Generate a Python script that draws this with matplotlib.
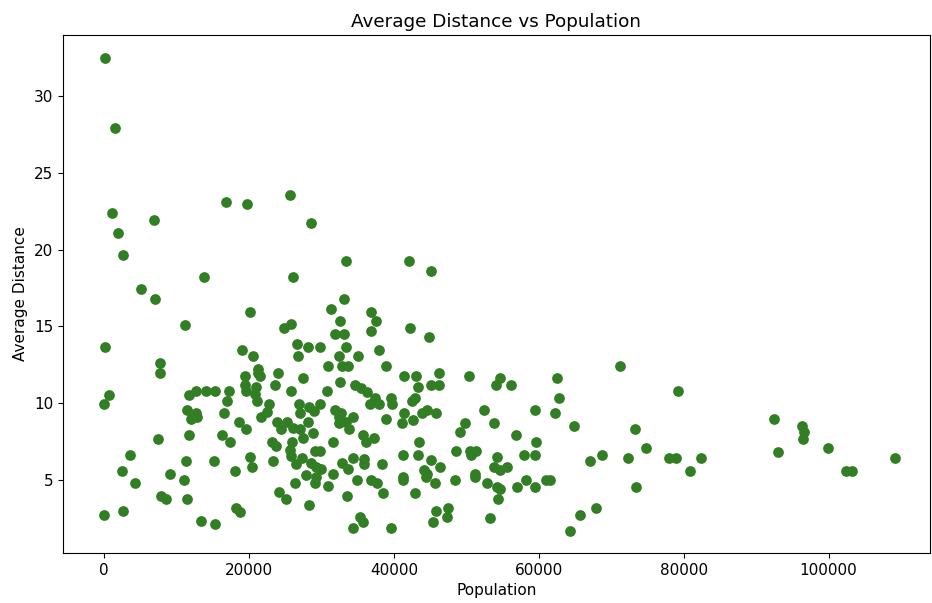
import matplotlib
matplotlib.use('Agg')
import matplotlib.pyplot as plt

# population (people) and average distance
population = [
    180, 1470, 25660,
    16780, 19680, 1060, 6850, 28550, 1890, 2670, 33330, 13790, 26110,
    5060, 6990, 33060, 31360, 20140, 32510, 11220, 25750, 24780, 31910,
    33060, 140, 19080, 26670, 28180, 29840, 33330, 20510, 26810, 32410,
    7770, 30850, 32780, 33700, 21200,
    7680, 19400, 21200, 21500, 24000, 27490, 32600, 740, 0, 11720, 12640,
    14020, 15310, 17200, 16920, 19400, 19540, 21010, 20780, 21150, 23540,
    25790, 30760, 22760, 22530, 21700, 26900, 28280, 29840, 27080, 29010,
    31820, 32640, 11400, 12740, 12000, 12870, 16510, 18620, 19540, 23860,
    24460, 25240, 26070, 26990, 28100, 28830, 27450, 25980, 32410, 32410,
    33330, 33750, 11770, 7450, 16320, 17430, 23220, 23770, 31590, 25610,
    25750, 29100, 29750, 27260, 26530, 28600, 29290, 29890, 27910, 29290,
    29150, 31590, 32870, 33660, 30940, 33470, 26300, 24140, 25060, 28280,
    3630, 2440, 4280, 11360, 15220, 9150, 10990, 18070, 20180, 20410,
    23360, 7820, 8510, 11450, 0, 2670, 18250, 18710, 13330, 15310,
    42110, 45150, 36780, 37520, 36780, 42250, 44780, 35080, 37890, 38940,
    71170,
    41430, 42990, 46160, 50390, 54710, 62480, 34620, 35450, 36230, 43260,
    45060, 46210, 54070, 56230, 62760, 37380, 36690, 37980, 39590, 39770,
    42480, 42940, 41430, 41060, 42570, 43860, 44600, 45750, 52460, 59540,
    62300, 38900, 34300, 35680, 36140, 37290, 49790, 49100, 53790, 64920,
    73240, 56830, 59590, 74850, 43400, 41290, 43310, 48550, 50480, 51310,
    50620, 54250, 58020, 59540, 68690, 67030, 72320, 34300, 35860, 35860,
    38390, 45150, 46340, 44140, 44600, 53790, 54710, 55630, 34850, 36780,
    37610, 38440, 41200, 41200, 44410, 45610, 42900, 48460, 51260, 51220,
    52830, 54250, 54710, 54300, 57010, 58210, 59450, 60970, 61610, 73380,
    35310, 35680, 34300, 39590, 45790, 45430, 47400, 47360, 53240, 67860,
    65750, 64280,
    79260, 77980, 78900, 82340, 80920, 92500, 96360, 96550, 96460, 93010,
    99950, 102340, 103220, 109200,
]
avg_distance = [
    32.45, 27.92, 23.55,
    23.12, 22.95, 22.36, 21.93, 21.71, 21.10, 19.67, 19.26, 18.24, 18.22,
    17.42, 16.76, 16.76, 16.15, 15.94, 15.33, 15.11, 15.14, 14.92, 14.49,
    14.49, 13.66, 13.46, 13.85, 13.66, 13.66, 13.66, 13.05, 13.05, 13.05,
    12.64, 12.44, 12.44, 12.44, 12.23,
    11.99, 11.79, 11.94, 11.79, 11.99, 11.62, 11.36, 10.55, 9.97, 10.55, 10.77,
    10.77, 10.77, 10.77, 10.16, 11.18, 10.77, 11.07, 10.60, 10.16, 11.18,
    10.77, 10.77, 9.97, 9.41, 9.10, 9.97, 9.75, 9.97, 9.34, 9.47,
    9.56, 9.34, 9.56, 9.34, 8.95, 9.08, 9.34, 8.75, 8.30, 8.75,
    8.30, 8.75, 8.37, 8.30, 8.75, 8.08, 7.72, 7.50, 9.12, 8.69,
    8.80, 8.30, 7.91, 7.67, 7.91, 7.50, 7.50, 7.21, 7.50, 6.95,
    6.56, 6.87, 6.87, 6.41, 6.02, 6.09, 5.87, 5.69, 5.32, 5.21,
    4.79, 5.39, 6.09, 5.69, 4.59, 3.98, 4.80, 4.20, 3.78, 3.37,
    6.65, 5.61, 4.79, 6.26, 6.26, 5.39, 5.00, 5.61, 6.48, 5.83,
    6.26, 3.98, 3.78, 3.78, 2.74, 2.96, 3.16, 2.94, 2.31, 2.12,
    19.26, 18.61, 15.94, 15.33, 14.72, 14.92, 14.31, 13.05, 13.46, 12.44,
    12.44,
    11.79, 11.79, 11.99, 11.79, 11.62, 11.62, 11.18, 10.96, 10.75, 11.03,
    11.18, 11.18, 11.18, 11.18, 10.36, 10.36, 9.97, 9.97, 10.36, 9.97,
    10.16, 10.36, 9.34, 8.73, 8.90, 9.34, 9.56, 9.34, 9.56, 9.56,
    9.34, 8.95, 9.08, 7.93, 7.50, 7.72, 8.73, 8.12, 8.73, 8.52,
    8.30, 7.91, 7.50, 7.07, 7.50, 6.65, 6.65, 6.87, 6.87, 6.87,
    6.63, 6.48, 6.65, 6.65, 6.65, 6.26, 6.43, 6.43, 6.35, 6.04,
    6.04, 6.30, 5.83, 5.65, 5.39, 5.87, 5.65, 5.83, 5.00, 5.00,
    4.79, 4.18, 5.21, 5.00, 5.21, 4.79, 4.18, 5.00, 5.39, 5.18,
    4.79, 4.57, 4.40, 3.78, 4.57, 5.00, 4.57, 5.00, 5.00, 4.57,
    2.61, 2.29, 1.90, 1.90, 2.96, 2.29, 3.16, 2.58, 2.55, 3.16,
    2.72, 1.68,
    10.79, 6.43, 6.43, 6.43, 5.61, 8.95, 8.52, 8.11, 7.67, 6.84,
    7.08, 5.61, 5.61, 6.43,
]

fig = plt.figure(figsize=(9.32, 6.03), dpi=100)
ax = fig.add_axes([0.0676, 0.083, 0.930, 0.859])

ax.scatter(population, avg_distance, s=45, color='#327e24')

ax.set_xlim(-5660, 113950)
ax.set_ylim(0.25, 33.97)
ax.set_title('Average Distance vs Population', fontsize=13.2)
ax.set_xlabel('Population', fontsize=11)
ax.set_ylabel('Average Distance', fontsize=11)
ax.tick_params(labelsize=11)

fig.savefig('out.png', dpi=100)
